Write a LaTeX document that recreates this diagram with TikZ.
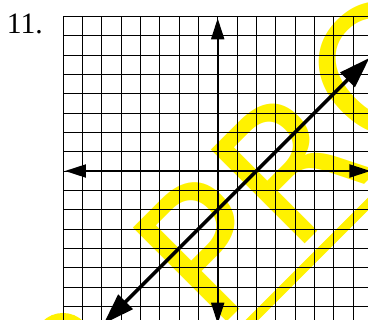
\documentclass[tikz,border=0pt]{standalone}
\usepackage{fontspec}
\setmainfont{Liberation Serif}
\newfontfamily\wmfont{DejaVu Sans}
\usetikzlibrary{arrows.meta}
\begin{document}
\begin{tikzpicture}[x=19.33pt,y=19.33pt,
  gridline/.style={black,line width=0.8pt,xstep=19.33pt,ystep=19.33pt},
  axis/.style={line width=2pt,{Triangle[length=21pt,width=13pt]}-{Triangle[length=21pt,width=13pt]}},
  graphline/.style={line width=3.5pt,{Triangle[length=31pt,width=20pt]}-{Triangle[length=31pt,width=20pt]}},
  wmtext/.style={rotate=45,anchor=base west,inner sep=0pt,outer sep=0pt,text=yellow,font=\wmfont\fontsize{182}{182}\selectfont},
  wmstroke/.style={yellow,line width=#1}]
\useasboundingbox (-11.262,-7.708) rectangle (7.775,8.846);
\clip (-11.262,-7.708) rectangle (7.775,8.846);
% watermark
\node[wmtext] (wm) at (-0.140,-8.433) {PRO};
\coordinate (ula) at (-2,-11.483);
\coordinate (ulb) at (12,2.517);
\draw[wmstroke=9pt] (ula) -- (ulb);
\coordinate (arcc) at (-8.003,-8.846);
\draw[wmstroke=15pt] (arcc) circle (21.5pt);
% grid
\draw[gridline] (-8,-8) grid (8,8);
% axes
\coordinate (xl) at (-7.9,0);
\coordinate (xr) at (7.9,0);
\coordinate (yb) at (0,-7.9);
\coordinate (yt) at (0,7.9);
\draw[axis] (xl) -- (xr);
\draw[axis] (yb) -- (yt);
% line y = x - 2
\coordinate (la) at (-5.9,-7.9);
\coordinate (lb) at (7.85,5.85);
\draw[graphline] (la) -- (lb);
% label
\node[anchor=base west,inner sep=0pt,font=\fontsize{29.6}{30}\selectfont] (num) at (-10.916,7.124) {11.};
\end{tikzpicture}
\end{document}
